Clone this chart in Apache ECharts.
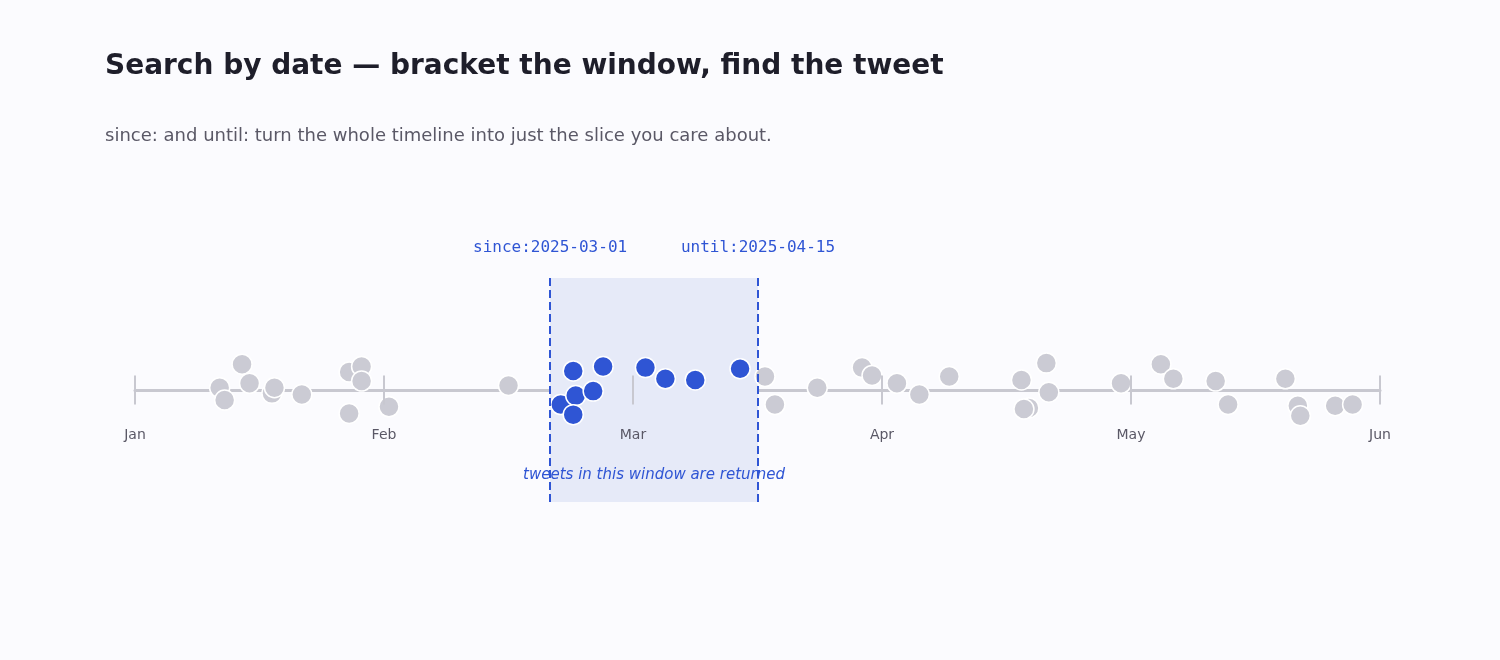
<!DOCTYPE html>
<html>
<head>
<meta charset="utf-8">
<script src="https://cdn.jsdelivr.net/npm/echarts@6/dist/echarts.min.js"></script>
<style>html,body{margin:0;background:#fbfbfe}#chart{width:1500px;height:660px}</style>
</head>
<body>
<div id="chart"></div>
<script>
// x in month units (0 = Jan), y = jitter offset
const monthLabels = ['Jan', 'Feb', 'Mar', 'Apr', 'May', 'Jun'];
const windowRange = [1.667, 2.502];
const windowLabels = ['since:2025-03-01', 'until:2025-04-15'];

const outsideTweets = [
  [0.34, 0.02], [0.36, -0.09], [0.43, 0.23], [0.46, 0.06], [0.55, -0.03], [0.56, 0.02],
  [0.67, -0.04], [0.86, 0.16], [0.91, 0.21], [0.91, 0.08], [0.86, -0.21], [1.02, -0.15],
  [1.50, 0.04], [2.53, 0.12], [2.57, -0.13], [2.74, 0.02], [2.92, 0.20], [2.96, 0.13],
  [3.06, 0.06], [3.15, -0.04], [3.27, 0.12], [3.56, 0.09], [3.59, -0.16], [3.57, -0.17],
  [3.66, 0.24], [3.67, -0.02], [3.96, 0.06], [4.12, 0.23], [4.17, 0.10], [4.34, 0.08],
  [4.39, -0.13], [4.62, 0.10], [4.67, -0.14], [4.68, -0.23], [4.82, -0.14], [4.89, -0.13]
];
const windowTweets = [
  [1.71, -0.13], [1.76, 0.17], [1.77, -0.05], [1.76, -0.22], [1.84, -0.01],
  [1.88, 0.21], [2.05, 0.20], [2.13, 0.10], [2.25, 0.09], [2.43, 0.19]
];

const blue = '#2f55d4';
const chart = echarts.init(document.getElementById('chart'));

const option = {
  backgroundColor: '#fbfbfe',
  title: [
    { text: 'Search by date — bracket the window, find the tweet', left: 100, top: 48,
      textStyle: { fontSize: 28, fontWeight: 'bold', color: '#1e1e2a', fontFamily: 'DejaVu Sans' } },
    { text: 'since: and until: turn the whole timeline into just the slice you care about.', left: 100, top: 122,
      textStyle: { fontSize: 18, fontWeight: 'normal', color: '#5a5866', fontFamily: 'DejaVu Sans' } }
  ],
  grid: { left: 135, right: 120, top: 278, bottom: 158 },
  xAxis: {
    type: 'value', min: 0, max: 5, interval: 1,
    axisLine: { onZero: true, lineStyle: { color: '#c8c8d0', width: 3 } },
    axisTick: { show: false },
    splitLine: { show: false },
    axisLabel: { show: false }
  },
  yAxis: { type: 'value', min: -1, max: 1, show: false },
  series: [
    {
      type: 'line', data: [], silent: true, z: 1,
      markArea: {
        silent: true,
        itemStyle: { color: '#e6eaf8' },
        label: { show: true, position: 'insideBottom', distance: 19, color: blue, fontStyle: 'italic',
          fontSize: 15, fontFamily: 'DejaVu Sans', formatter: 'tweets in this window are returned' },
        data: [[{ xAxis: windowRange[0] }, { xAxis: windowRange[1] }]]
      },
      markLine: {
        silent: true, symbol: 'none',
        lineStyle: { color: blue, type: 'dashed', width: 2 },
        data: [
          [{ coord: [windowRange[0], -1] }, { coord: [windowRange[0], 1] }],
          [{ coord: [windowRange[1], -1] }, { coord: [windowRange[1], 1] }]
        ].map((d, i) => {
          d[1].label = { show: true, position: 'end', distance: 22, color: blue, fontSize: 16,
            fontFamily: 'DejaVu Sans Mono', formatter: windowLabels[i] };
          return d;
        })
      }
    },
    {
      type: 'line', data: [], silent: true, z: 2,
      markLine: {
        silent: true, symbol: 'none',
        lineStyle: { color: '#c8c8d0', type: 'solid', width: 2 },
        data: monthLabels.map((m, i) => [
          { coord: [i, 0.13] },
          { coord: [i, -0.13], label: { show: true, position: 'end', distance: 24, color: '#5a5866',
            fontSize: 14, fontFamily: 'DejaVu Sans', formatter: m } }
        ])
      }
    },
    {
      type: 'scatter', data: outsideTweets, symbolSize: 20, z: 3,
      itemStyle: { color: '#cbcbd4', borderColor: '#ffffff', borderWidth: 1.5, opacity: 1 }
    },
    {
      type: 'scatter', data: windowTweets, symbolSize: 20, z: 4,
      itemStyle: { color: blue, borderColor: '#ffffff', borderWidth: 1.5, opacity: 1 }
    }
  ]
};

chart.setOption(option);
</script>
</body>
</html>
